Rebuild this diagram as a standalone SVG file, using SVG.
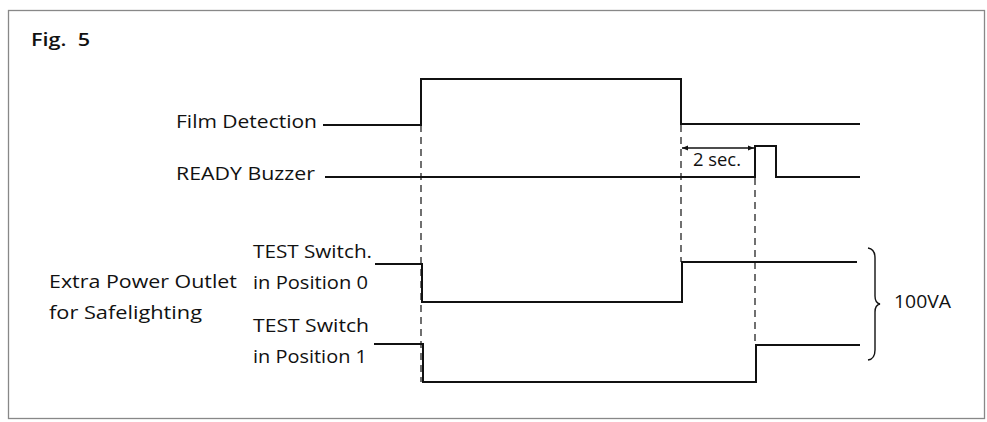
<svg xmlns="http://www.w3.org/2000/svg" width="987" height="422" viewBox="0 0 987 422">
  <defs>
    <style>
      .t { font-family: "Open Sans", "Noto Sans", "DejaVu Sans", sans-serif; font-size: 18px; fill: #111; }
      .sig { fill: none; stroke: #111; stroke-width: 2; stroke-linejoin: miter; }
      .dash { fill: none; stroke: #111; stroke-width: 1.2; stroke-dasharray: 7 5; }
      .frame { fill: none; stroke: #888; stroke-width: 1.3; }
    </style>
    <marker id="ah" viewBox="0 0 10 10" refX="10" refY="5" markerWidth="7" markerHeight="6" orient="auto-start-reverse" markerUnits="userSpaceOnUse">
      <path d="M0,1 L10,5 L0,9 Z" fill="#111"/>
    </marker>
  </defs>
  <rect width="987" height="422" fill="#fff"/>
  <rect class="frame" x="8.5" y="10.5" width="976" height="408"/>

  <g id="title">
    <text class="t" x="31" y="46" font-size="20" font-weight="600" textLength="59" lengthAdjust="spacingAndGlyphs" xml:space="preserve">Fig.  5</text>
  </g>

  <g id="labels">
    <text class="t" x="176" y="128" textLength="141" lengthAdjust="spacingAndGlyphs">Film Detection</text>
    <text class="t" x="176" y="180" textLength="139" lengthAdjust="spacingAndGlyphs">READY Buzzer</text>
    <text class="t" x="49" y="288" textLength="188" lengthAdjust="spacingAndGlyphs">Extra Power Outlet</text>
    <text class="t" x="49" y="319" textLength="153" lengthAdjust="spacingAndGlyphs">for Safelighting</text>
    <text class="t" x="253" y="258" textLength="119" lengthAdjust="spacingAndGlyphs">TEST Switch.</text>
    <text class="t" x="253" y="289" textLength="115" lengthAdjust="spacingAndGlyphs">in Position 0</text>
    <text class="t" x="253" y="332" textLength="116" lengthAdjust="spacingAndGlyphs">TEST Switch</text>
    <text class="t" x="253" y="363" textLength="114" lengthAdjust="spacingAndGlyphs">in Position 1</text>
    <text class="t" x="894" y="308" font-family="Liberation Sans, Arial, sans-serif" textLength="57" lengthAdjust="spacingAndGlyphs">100VA</text>
    <text class="t" x="693" y="166" textLength="48" lengthAdjust="spacingAndGlyphs">2 sec.</text>
  </g>

  <g id="connectors">
    <line class="dash" x1="421" y1="125" x2="421" y2="382"/>
    <line class="dash" x1="681" y1="125" x2="681" y2="262"/>
    <line class="dash" x1="755" y1="178" x2="755" y2="345"/>
    <line x1="682" y1="148" x2="754" y2="148" stroke="#111" stroke-width="1.3" marker-start="url(#ah)" marker-end="url(#ah)"/>
    <path d="M868,248 Q875,249 875,258 L875,296 Q875,303 880,304 Q875,305 875,312 L875,350 Q875,359 868,360" fill="none" stroke="#111" stroke-width="1.4"/>
  </g>

  <g id="film-detection">
    <polyline class="sig" points="323,125 421,125 421,79 681,79 681,124 860,124"/>
  </g>
  <g id="ready-buzzer">
    <polyline class="sig" points="325,177 755,177 755,146 776,146 776,177 860,177"/>
  </g>
  <g id="test-switch-0">
    <polyline class="sig" points="375,264 422,264 422,302 682,302 682,262 857,262"/>
  </g>
  <g id="test-switch-1">
    <polyline class="sig" points="374,344 423,344 423,382 756,382 756,345 860,345"/>
  </g>
</svg>
